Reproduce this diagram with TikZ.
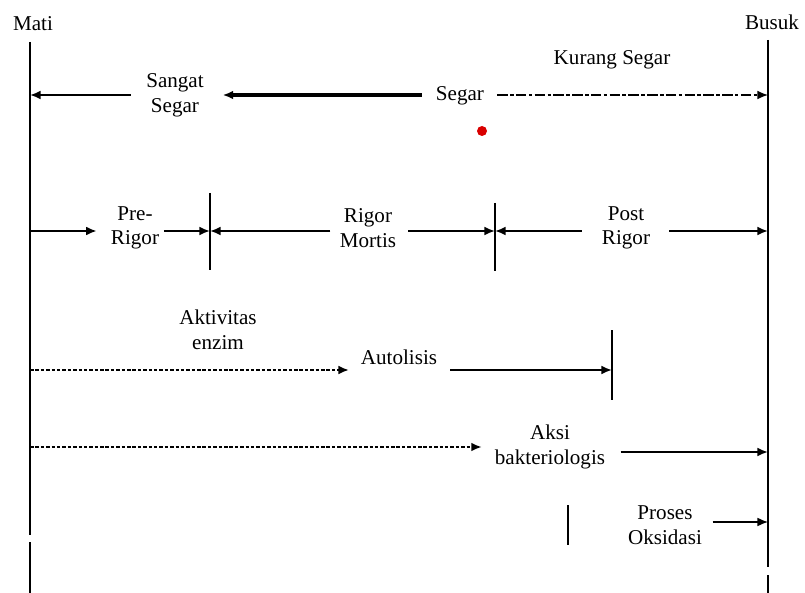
\documentclass[tikz,border=0pt]{standalone}
\usepackage{fontspec}
\setmainfont{Liberation Serif}
\usetikzlibrary{arrows.meta,positioning}

\begin{document}
\begin{tikzpicture}[x=0.03cm,y=-0.03cm,>={Latex[length=9pt,width=7.5pt]},
  lbl/.style={align=center,font=\fontsize{18}{21}\selectfont,inner sep=2pt},
  arr/.style={->,line width=1.6pt},
  thickarr/.style={arr,line width=2.6pt},
  dotarr/.style={arr,line width=1.7pt,dash pattern=on 3pt off 1.6pt},
  dashdot/.style={arr,line width=1.3pt,dash pattern=on 9pt off 2pt on 3pt off 2pt},
  axisline/.style={line width=2.2pt},
  tickline/.style={line width=1.7pt}]
  \useasboundingbox (0,0) rectangle (805,593);
  % time axis: death ... spoilage
  \node[lbl] (mati) at (33,24) {Mati};
  \node[lbl] (busuk) at (772,22) {Busuk};
  \draw[axisline] (30,42) -- (30,535) (30,542) -- (30,593);
  \draw[axisline] (768,40) -- (768,567) (768,575) -- (768,593);
  \coordinate (L1) at (30,95);  \coordinate (R1) at (768,95);
  \coordinate (L2) at (30,231); \coordinate (R2) at (768,231);
  \coordinate (L3) at (30,370);
  \coordinate (L4) at (30,447); \coordinate (R4) at (768,452);
  \coordinate (R5) at (768,522);
  % freshness
  \node[lbl] (sangat) at (175,95) {Sangat\\Segar};
  \node[lbl] (segar) at (460,96) {Segar};
  \node[lbl] (kurang) at (612,60) {Kurang Segar};
  \draw[arr,shorten <=11pt] (sangat.west) -- (L1);
  \draw[thickarr,shorten <=10pt,shorten >=14pt] (segar.west |- L1) -- (sangat.east);
  \draw[dashdot,shorten <=9pt] (segar.east |- R1) -- (R1);
  \fill[red!85!black] (482,131) circle (5);
  % rigor phases
  \coordinate (t1) at (210,231); \coordinate (t2) at (495,231);
  \draw[tickline] (210,193) -- (210,270);
  \draw[tickline] (495,203) -- (495,271);
  \node[lbl] (pre) at (135,228) {Pre-\\Rigor};
  \node[lbl] (rigor) at (368,228) {Rigor\\Mortis};
  \node[lbl] (post) at (626,228) {Post\\Rigor};
  \draw[arr,shorten >=10pt] (L2) -- (pre.west |- L2);
  \draw[arr,shorten <=2pt] (pre.east |- t1) -- (t1);
  \draw[arr,shorten <=6pt] (rigor.west |- t1) -- (t1);
  \draw[arr,shorten <=8pt] (rigor.east |- t2) -- (t2);
  \draw[arr,shorten <=15pt] (post.west |- t2) -- (t2);
  \draw[arr,shorten <=14pt] (post.east |- R2) -- (R2);
  % autolysis
  \coordinate (t3) at (612,370);
  \draw[tickline] (612,330) -- (612,400);
  \node[lbl] (enzim) at (218,330) {Aktivitas\\enzim};
  \node[lbl] (autolisis) at (399,357) {Autolisis};
  \draw[dotarr,shorten >=8pt] (L3) -- (L3 -| autolisis.west);
  \draw[arr,shorten <=9pt] (autolisis.east |- t3) -- (t3);
  % bacteria
  \node[lbl] (aksi) at (550,447) {Aksi\\bakteriologis};
  \draw[dotarr,shorten >=9pt] (L4) -- (L4 -| aksi.west);
  \draw[arr,shorten <=11pt] (aksi.east |- R4) -- (R4);
  % oxidation
  \draw[tickline] (568,505) -- (568,545);
  \node[lbl] (proses) at (665,525) {Proses\\Oksidasi};
  \draw[arr,line width=1.1pt,shorten <=7pt] (proses.east |- R5) -- (R5);
\end{tikzpicture}
\end{document}
